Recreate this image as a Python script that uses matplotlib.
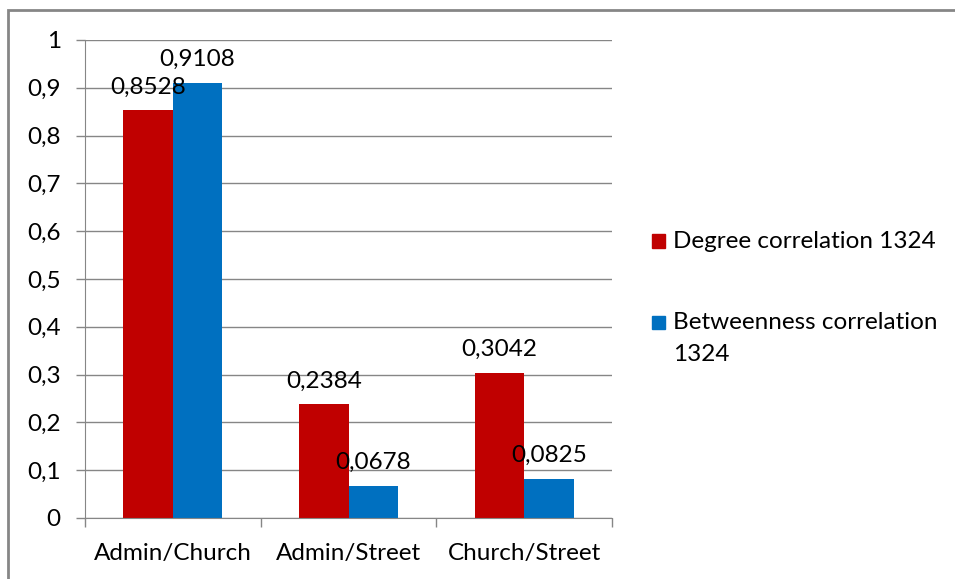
import numpy as np
import matplotlib.pyplot as plt
from matplotlib.patches import Rectangle

plt.rcParams['font.family'] = ['Lato', 'DejaVu Sans']

categories = ["Admin/Church", "Admin/Street", "Church/Street"]
degree = [0.8528, 0.2384, 0.3042]
betweenness = [0.9108, 0.0678, 0.0825]
series_names = ["Degree correlation 1324", "Betweenness correlation\n1324"]
red = "#c00000"
blue = "#0070c0"
fs = 17.5

fig = plt.figure(figsize=(9.55, 5.79), dpi=100)
ax = fig.add_axes([85/955, 61/579, 527/955, 478/579])

x = np.arange(len(categories))
w = 0.282
b1 = ax.bar(x - w/2, degree, w, color=red, label=series_names[0])
b2 = ax.bar(x + w/2, betweenness, w, color=blue, label=series_names[1])

def fmt(v):
    return ("%g" % v).replace(".", ",")

for bars, vals in ((b1, degree), (b2, betweenness)):
    for r, v in zip(bars, vals):
        ax.annotate(fmt(v), (r.get_x() + r.get_width()/2, v), xytext=(0, 9),
                    textcoords="offset points", ha="center", va="bottom", fontsize=fs)

ax.set_xlim(-0.5, 2.5)
ax.set_ylim(0, 1)
yt = np.round(np.arange(0, 1.01, 0.1), 1)
ax.set_yticks(yt)
ax.set_yticklabels([fmt(t) for t in yt])
ax.yaxis.grid(True, color="#868686", lw=1)
ax.set_axisbelow(True)
ax.set_xticks(x)
ax.set_xticklabels(categories)
ax.set_xticks([-0.5, 0.5, 1.5, 2.5], minor=True)
ax.tick_params(axis="x", which="major", length=0, pad=18, labelsize=fs)
ax.tick_params(axis="x", which="minor", length=6.5, color="#868686", width=1)
ax.tick_params(axis="y", length=6.5, color="#868686", width=1, pad=11, labelsize=fs)
for s in ("top", "right"):
    ax.spines[s].set_visible(False)
for s in ("left", "bottom"):
    ax.spines[s].set_color("#868686")

# legend drawn by hand (Excel style: square aligned with first text line)
W, H = 955, 579
for bars, name, yc in ((b1, series_names[0], 241), (b2, series_names[1], 322)):
    fig.patches.append(Rectangle((652/W, 1 - (yc + 6.5)/H), 13/W, 13/H,
                                 transform=fig.transFigure,
                                 color=bars.patches[0].get_facecolor()))
    fig.text(673/W, 1 - (yc - 10)/H, name, fontsize=fs, va="top", ha="left",
             linespacing=1.65)

fig.patches.append(Rectangle((8/W, -0.1), 1.2, 1 - 10/H + 0.1, transform=fig.transFigure,
                             fill=False, edgecolor="#868686", lw=2))

fig.savefig("out.png", dpi=100)
